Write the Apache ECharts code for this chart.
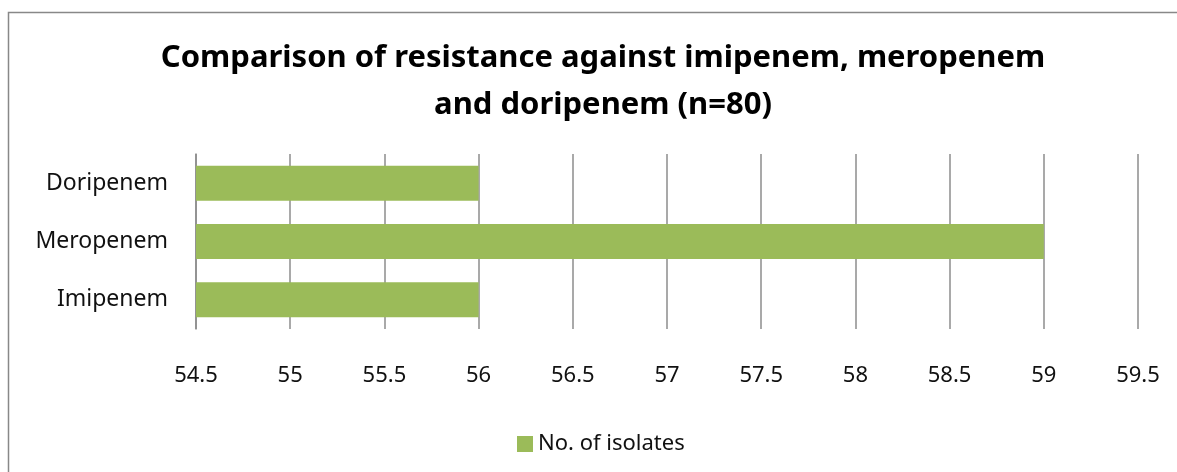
<!DOCTYPE html>
<html>
<head>
<meta charset="utf-8">
<script src="https://cdn.jsdelivr.net/npm/echarts@6/dist/echarts.min.js"></script>
<style>
  html, body { margin: 0; padding: 0; background: #fff; }
  #main { width: 1177px; height: 472px; }
</style>
</head>
<body>
<div id="main"></div>
<script>
// Chart data
var categories = ['Imipenem', 'Meropenem', 'Doripenem'];
var isolates = [56, 59, 56];
var seriesName = 'No. of isolates';
var xMin = 54.5;
var xMax = 59.5;
var xStep = 0.5;

var chartDom = document.getElementById('main');
var myChart = echarts.init(chartDom);
var font = 'Noto Sans';

var option = {
  animation: false,
  title: {
    text: 'Comparison of resistance against imipenem, meropenem\nand doripenem (n=80)',
    left: 598,
    textAlign: 'center',
    top: 30,
    textStyle: {
      fontFamily: font,
      fontWeight: 'bold',
      fontSize: 31,
      lineHeight: 47,
      color: '#000'
    }
  },
  graphic: [{
    type: 'rect',
    shape: { x: 8.5, y: 12.5, width: 1200, height: 500 },
    style: { fill: 'none', stroke: '#888', lineWidth: 1.5 },
    silent: true
  }],
  legend: {
    bottom: 12,
    left: 512,
    itemWidth: 16,
    itemHeight: 16,
    itemGap: 8,
    textStyle: { fontFamily: font, fontSize: 22, color: '#111' },
    data: [{ name: seriesName, icon: 'rect' }]
  },
  grid: { left: 196, right: 39, top: 154, bottom: 143, containLabel: false },
  xAxis: {
    type: 'value',
    min: xMin,
    max: xMax,
    interval: xStep,
    axisLine: { show: false },
    axisTick: { show: false },
    axisLabel: {
      margin: 36,
      fontFamily: font,
      fontSize: 22,
      color: '#111'
    },
    splitLine: { show: true, lineStyle: { color: '#8c8c8c', width: 1.5 } }
  },
  yAxis: {
    type: 'category',
    data: categories,
    axisLine: { show: true, lineStyle: { color: '#8c8c8c', width: 1.5 } },
    axisTick: { show: false },
    axisLabel: {
      margin: 28,
      fontFamily: font,
      fontSize: 23,
      color: '#111'
    }
  },
  series: [{
    name: seriesName,
    type: 'bar',
    data: isolates,
    barCategoryGap: '40%',
    itemStyle: { color: '#9BBB59' }
  }]
};

myChart.setOption(option);
</script>
</body>
</html>
